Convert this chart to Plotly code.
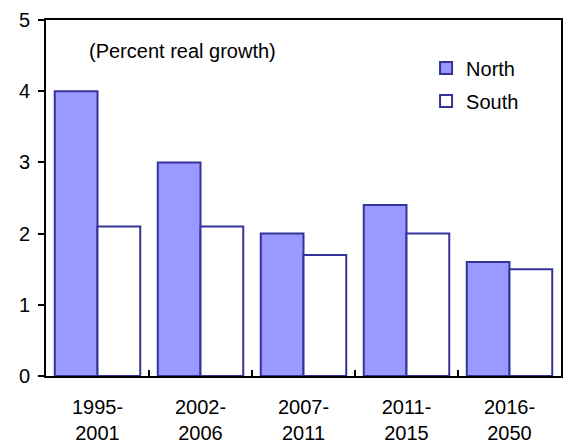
import plotly.graph_objects as go

periods = ["1995-<br>2001", "2002-<br>2006", "2007-<br>2011", "2011-<br>2015", "2016-<br>2050"]
north = [4.0, 3.0, 2.0, 2.4, 1.6]
south = [2.1, 2.1, 1.7, 2.0, 1.5]

font = "Arial, 'Liberation Sans', sans-serif"
edge = "#333399"

fig = go.Figure()
fig.add_trace(go.Bar(x=periods, y=north, name="North", legendgroup="n",
                     marker=dict(color="#9999FF", line=dict(color=edge, width=2))))
fig.add_trace(go.Bar(x=periods, y=south, name="South", legendgroup="s",
                     marker=dict(color="#FFFFFF", line=dict(color=edge, width=2))))

fig.update_layout(
    width=565, height=443,
    margin=dict(l=46, r=4, t=20, b=67, autoexpand=False),
    plot_bgcolor="white", paper_bgcolor="white",
    font=dict(family=font, size=20, color="black"),
    barmode="group", bargap=0.17, bargroupgap=0,
    showlegend=True,
    legend=dict(x=0.738, y=0.92, xanchor="left", yanchor="top",
                font=dict(size=20), bgcolor="rgba(0,0,0,0)",
                itemwidth=30, tracegroupgap=4),
    annotations=[dict(text="(Percent real growth)", xref="paper", yref="paper",
                      x=0.266, y=0.914, xanchor="center", yanchor="middle",
                      showarrow=False, font=dict(size=20, family=font))],
)
fig.update_xaxes(showline=True, linecolor="black", linewidth=2, mirror=True,
                 ticks="inside", tickson="boundaries", ticklen=6, tickwidth=2,
                 tickcolor="black", ticklabelstandoff=12, showgrid=False,
                 automargin=False)
fig.update_yaxes(range=[0, 5], dtick=1, showline=True, linecolor="black",
                 linewidth=2, mirror=True, ticks="outside", ticklen=6,
                 tickwidth=2, tickcolor="black", ticklabelstandoff=4,
                 showgrid=False, zeroline=False, automargin=False)

fig.write_html("out.html", config={"displayModeBar": False},
               post_script="document.body.style.margin='0';")
